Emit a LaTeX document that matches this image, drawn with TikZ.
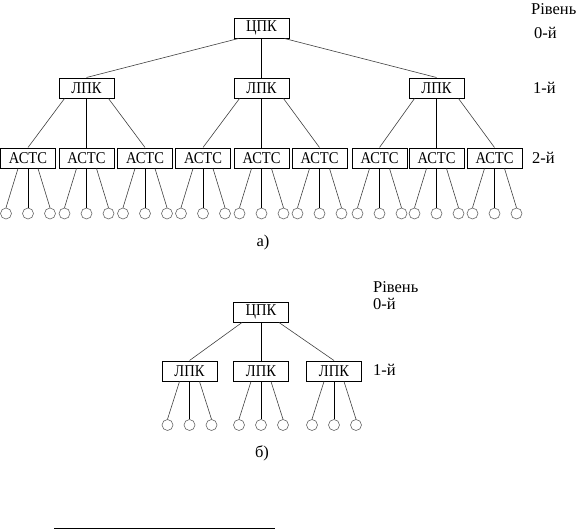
\documentclass[tikz,border=0pt]{standalone}
\usepackage{fontspec}
\setmainfont{Liberation Serif}
\newfontfamily\boxfont[FakeStretch=0.88]{Liberation Serif}
\usetikzlibrary{calc}
\tikzset{
	nbox/.style={
		draw,
		line width=1pt,
		minimum width=55pt,
		minimum height=20pt,
		inner sep=0pt,
		font=\boxfont\fontsize{16.5}{18}\selectfont
	},
	leaf/.style={circle, draw=black!60, line width=0.6pt, minimum size=11pt, inner sep=0pt},
	vline/.style={line width=1pt},
	dline/.style={line width=0.6pt, black!75},
	lvl/.style={anchor=west, inner sep=0pt, font=\fontsize{16.5}{18}\selectfont}
}

\begin{document}
\begin{tikzpicture}[x=1pt, y=-1pt]
		\useasboundingbox (0,0) rectangle (576,530);
		% a) three levels
		\node[nbox] (cpk) at (261.5,28) {ЦПК};
		\node[nbox] (lpk1) at (86.5,88) {ЛПК};
		\node[nbox] (lpk2) at (261.5,88) {ЛПК};
		\node[nbox] (lpk3) at (436.5,88) {ЛПК};
		\node[nbox] (a1) at (28,158) {АСТС};
		\node[nbox] (a2) at (86.5,158) {АСТС};
		\node[nbox] (a3) at (145,158) {АСТС};
		\node[nbox] (a4) at (203,158) {АСТС};
		\node[nbox] (a5) at (261.5,158) {АСТС};
		\node[nbox] (a6) at (319.5,158) {АСТС};
		\node[nbox] (a7) at (379.5,158) {АСТС};
		\node[nbox] (a8) at (436.5,158) {АСТС};
		\node[nbox] (a9) at (494.5,158) {АСТС};
		\draw[dline] ([xshift=5pt]cpk.south west) -- (lpk1.north);
		\draw[vline] (cpk.south) -- (lpk2.north);
		\draw[dline] ([xshift=-5pt]cpk.south east) -- (lpk3.north);
		\draw[dline] ([xshift=-22pt]lpk1.south) -- (a1.north);
		\draw[vline] (lpk1.south) -- (a2.north);
		\draw[dline] ([xshift=22pt]lpk1.south) -- (a3.north);
		\draw[dline] ([xshift=-22pt]lpk2.south) -- (a4.north);
		\draw[vline] (lpk2.south) -- (a5.north);
		\draw[dline] ([xshift=22pt]lpk2.south) -- (a6.north);
		\draw[dline] ([xshift=-22pt]lpk3.south) -- (a7.north);
		\draw[vline] (lpk3.south) -- (a8.north);
		\draw[dline] ([xshift=22pt]lpk3.south) -- (a9.north);
		\foreach \n in {a1,a2,a3,a4,a5,a6,a7,a8,a9} {
			\node[leaf] (\n1) at ($(\n)+(-22,55.5)$) {};
			\node[leaf] (\n2) at ($(\n)+(0,55.5)$) {};
			\node[leaf] (\n3) at ($(\n)+(22,55.5)$) {};
			\draw[dline] ([xshift=-10pt]\n.south) -- (\n1.north);
			\draw[vline] (\n.south) -- (\n2.north);
			\draw[dline] ([xshift=10pt]\n.south) -- (\n3.north);
		}
		\node[lvl] (rv) at (531,9) {Рівень};
		\node[lvl] (r0) at (534,33) {0-й};
		\node[lvl] (r1) at (533,88) {1-й};
		\node[lvl] (r2) at (532,158) {2-й};
		\node[font=\fontsize{16.5}{18}\selectfont] (capa) at (263,243) {а)};
		% b) two levels
		\node[nbox] (cpkb) at (261,312) {ЦПК};
		\node[nbox] (lpkb1) at (189.5,371) {ЛПК};
		\node[nbox] (lpkb2) at (261,371) {ЛПК};
		\node[nbox] (lpkb3) at (334,371) {ЛПК};
		\draw[dline] ([xshift=-19pt]cpkb.south) -- (lpkb1.north);
		\draw[vline] (cpkb.south) -- (lpkb2.north);
		\draw[dline] ([xshift=18pt]cpkb.south) -- (lpkb3.north);
		\foreach \n in {lpkb1,lpkb2,lpkb3} {
			\node[leaf] (\n1) at ($(\n)+(-22,54)$) {};
			\node[leaf] (\n2) at ($(\n)+(0,54)$) {};
			\node[leaf] (\n3) at ($(\n)+(22,54)$) {};
			\draw[dline] ([xshift=-10pt]\n.south) -- (\n1.north);
			\draw[vline] (\n.south) -- (\n2.north);
			\draw[dline] ([xshift=10pt]\n.south) -- (\n3.north);
		}
		\node[lvl] (rvb) at (373,287) {Рівень};
		\node[lvl] (r0b) at (373,304) {0-й};
		\node[lvl] (r1b) at (373,370) {1-й};
		\node[font=\fontsize{16.5}{18}\selectfont] (capb) at (262,453) {б)};
		% footnote rule
		\coordinate (fl) at (54,528.5);
		\coordinate (fr) at (275,528.5);
		\draw[line width=1pt] (fl) -- (fr);
	\end{tikzpicture}
\end{document}
